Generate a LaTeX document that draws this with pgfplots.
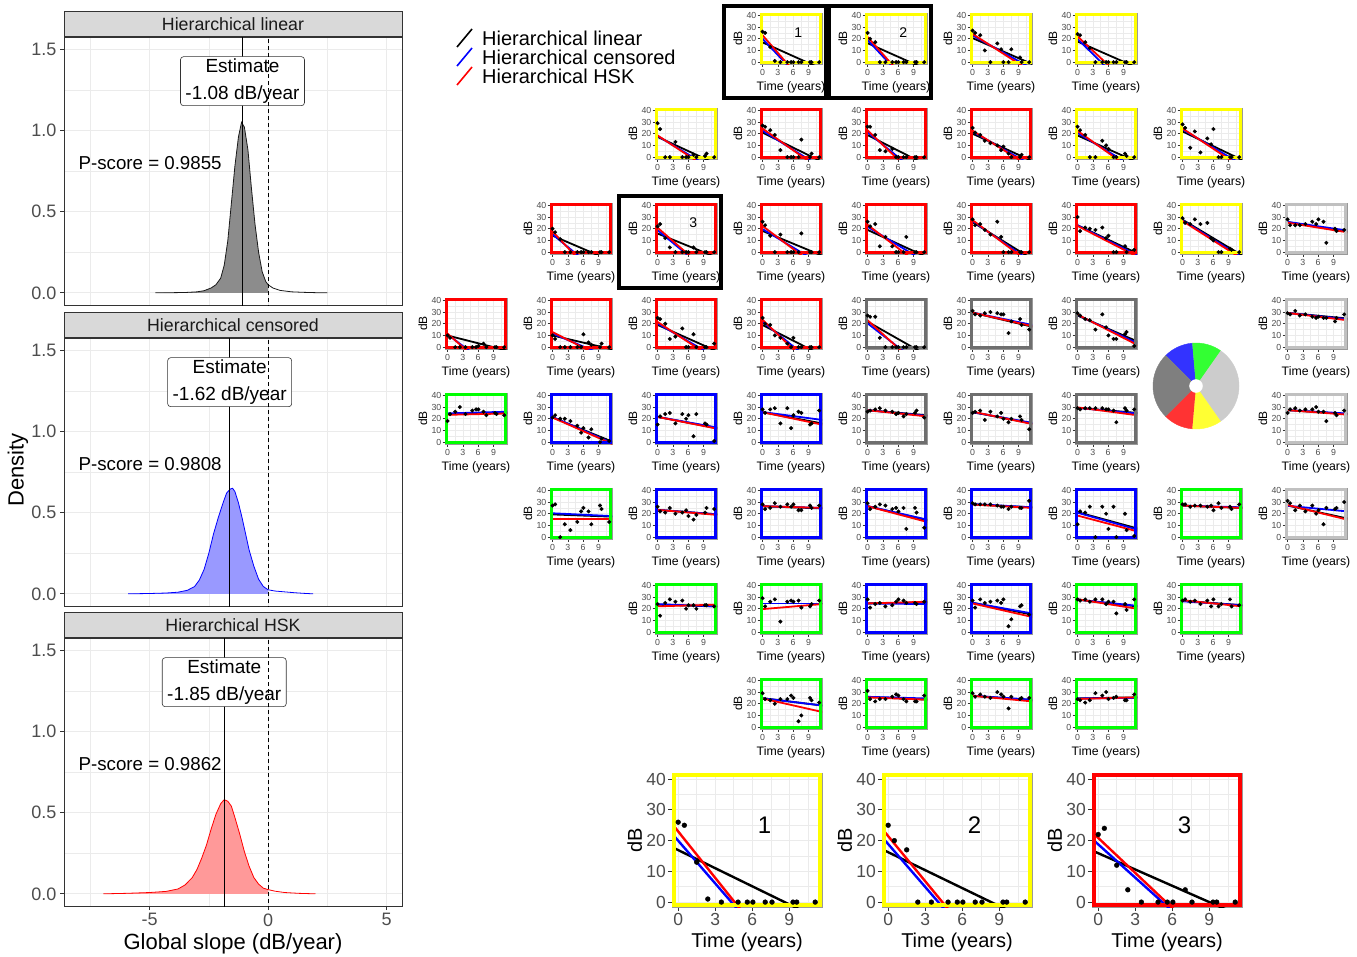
\documentclass[border=0pt]{standalone}
\usepackage{fontspec}
\setmainfont{Liberation Sans}
\usepackage{pgfplots}
\usepackage{pgfplotstable}
\pgfplotsset{compat=1.18}
\newcommand{\fs}[1]{\fontsize{#1}{#1}\selectfont}
\definecolor{g10}{HTML}{1A1A1A}
\definecolor{g20}{HTML}{333333}
\definecolor{g30}{HTML}{4D4D4D}
\definecolor{g60}{HTML}{999999}
\definecolor{g85}{HTML}{D9D9D9}
\definecolor{g92}{HTML}{EBEBEB}
\definecolor{cyel}{HTML}{FFFF00}
\definecolor{cred}{HTML}{FF0000}
\definecolor{cblu}{HTML}{0000FF}
\definecolor{cgrn}{HTML}{00FF00}
\definecolor{cdg}{HTML}{6E6E6E}
\definecolor{clg}{HTML}{C0C0C0}
\definecolor{pblue}{HTML}{3333FF}
\definecolor{pgreen}{HTML}{33FF33}
\definecolor{plg}{HTML}{CCCCCC}
\definecolor{pyel}{HTML}{FFFF33}
\definecolor{pred}{HTML}{FF3333}
\definecolor{pdg}{HTML}{7F7F7F}
\definecolor{fgrey}{HTML}{8C8C8C}
\definecolor{fblue}{HTML}{9999FF}
\definecolor{fred}{HTML}{FF9999}

% visual field rows: t = time (years), cK = column K of the grid
\pgfplotstableread{
t c3 c4 c5 c6
0 26 25 27 24
0.5 25 20 25 23
1.5 13 17 23 17
2.4 1 0 10 12
3.5 0 0 0 0
4.85 0 0 16 0
5.6 0 0 11 0
6.05 0 0 0 0
7.05 0 0 0 0
7.6 0 0 11 0
9.3 0 0 4 0
9.6 0 0 0 0
11.1 0 0 0 0
}\tA
\pgfplotstableread{
t c2 c3 c4 c5 c6 c7
0 29 27 26 25 26 28
0.5 24 26 26 21 23 25
1.5 0 23 19 19 19 8
2.4 0 19 6 14 0 22
3.5 13 6 5 12 0 4
4.85 0 0 7 10 14 16
5.6 0 0 0 6 10 11
6.05 0 0 0 9 7 24
7.05 2 0 0 3 0 0
7.6 0 15 0 0 0 0
9.3 1 0 0 0 3 0
9.6 3 3 0 2 1 0
11.1 0 0 0 0 0 0
}\tB
\pgfplotstableread{
t c1 c2 c3 c4 c5 c6 c7 c8
0 20 22 26 26 28 30 29 28
0.5 17 24 23 22 23 18 25 23
1.5 11 12 14 24 24 21 24 23
2.4 0 4 0 5 19 20 28 23
3.5 0 0 15 13 15 19 24 24
4.85 0 0 0 5 26 21 25 26
5.6 0 0 0 0 13 12 12 24
6.05 0 0 0 0 0 14 10 28
7.05 0 4 0 0 0 0 0 26
7.6 0 0 16 13 0 0 0 8
9.3 0 0 0 0 0 5 3 20
9.6 0 0 0 0 0 0 2 18
11.1 0 0 0 0 0 2 0 19
}\tC
\pgfplotstableread{
t c0 c1 c2 c3 c4 c5 c6 c8
0 10 10 25 25 27 31 29 29
0.5 8 7 24 20 26 28 27 28
1.5 0 0 20 19 26 27 24 31
2.4 0 0 7 10 8 29 23 27
3.5 0 0 9 8 0 30 15 28
4.85 0 0 16 3 0 29 28 26
5.6 0 0 0 0 0 28 17 25
6.05 1 11 0 8 0 28 10 26
7.05 3 4 11 0 0 12 7 25
7.6 0 2 0 0 0 22 7 25
9.3 0 0 0 0 0 24 11 22
9.6 0 3 0 0 0 19 13 25
11.1 0 0 3 0 0 15 1 28
}\tD
\pgfplotstableread{
t c0 c1 c2 c3 c4 c5 c6 c8
0 18 21 15 28 26 25 29 25
0.5 24 23 22 25 27 26 28 28
1.5 26 20 24 28 28 27 29 29
2.4 30 20 25 29 29 19 29 27
3.5 24 18 16 16 27 26 29 28
4.85 27 14 24 29 26 22 29 28
5.6 28 8 20 12 24 25 28 30
6.05 28 12 23 23 25 20 28 26
7.05 26 4 5 26 22 17 27 26
7.6 23 11 24 25 24 20 17 18
9.3 25 0 16 15 25 22 29 25
9.6 24 3 15 16 27 19 27 23
11.1 23 1 1 27 21 11 28 27
}\tE
\pgfplotstableread{
t c1 c2 c3 c4 c5 c6 c7 c8
0 27 26 28 29 29 11 28 31
0.5 28 22 24 24 28 22 28 29
1.5 0 21 25 26 28 21 26 23
2.4 11 25 29 28 28 26 27 27
3.5 6 20 26 27 28 0 27 22
4.85 13 21 28 24 27 26 26 27
5.6 22 23 26 25 26 20 27 20
6.05 25 18 28 22 26 7 23 23
7.05 22 15 23 25 24 26 29 11
7.6 11 19 23 7 26 0 25 25
9.3 27 21 27 25 25 20 26 24
9.6 24 25 25 21 25 6 24 25
11.1 13 24 27 8 31 1 28 30
}\tF
\pgfplotstableread{
t c2 c3 c4 c5 c6 c7
0 24 29 28 27 28 27
0.5 14 22 21 21 27 28
1.5 25 26 24 28 28 26
2.4 28 28 25 25 26 27
3.5 26 9 22 26 28 24
4.85 27 26 23 27 28 27
5.6 20 27 26 25 24 22
6.05 23 26 28 28 26 28
7.05 23 27 27 5 26 22
7.6 20 21 25 11 16 24
9.3 23 22 25 22 24 28
9.6 23 24 24 23 19 22
11.1 22 27 26 15 28 23
}\tG
\pgfplotstableread{
t c3 c4 c5 c6
0 29 31 29 24
0.5 24 24 26 23
1.5 23 22 28 21
2.4 20 24 26 23
3.5 24 24 25 29
4.85 24 26 30 27
5.6 27 28 28 30
6.05 25 27 26 24
7.05 5 24 16 25
7.6 10 22 26 26
9.3 25 22 24 23
9.6 23 22 25 23
11.1 21 27 25 28
}\tH

\tikzset{
  estbox/.style={draw=g20, line width=0.6pt, rounded corners=3pt, fill=white,
    align=center, font={\fontsize{19}{27}\selectfont}, minimum width=124pt,
    minimum height=49pt, inner sep=0pt},
  pscore/.style={anchor=west, font=\fs{18.7}, inner sep=0pt},
}
\pgfplotsset{
  vfbase/.style={
    scale only axis, anchor=north west,
    xmin=-0.5, xmax=11.65, ymin=-1.6, ymax=42,
    xtick={0,3,6,9}, ytick={0,10,20,30,40},
    minor xtick={1.5,4.5,7.5,10.5}, minor ytick={5,15,25,35},
    xmajorgrids, ymajorgrids, xminorgrids, yminorgrids,
    tick align=outside, tick pos=left, minor tick length=0pt,
    axis line style={g60},
    xlabel={Time (years)}, ylabel={dB},
    /pgf/number format/assume math mode=true,
    tick label style={text=g30},
    clip=true,
  },
  vf/.style={vfbase, width=62pt, height=51pt,
    major grid style={g92, line width=0.5pt},
    minor grid style={g92, line width=0.3pt},
    major tick length=2.5pt, tick style={g20, line width=0.5pt},
    tick label style={font=\fs{8.8}, inner sep=1pt},
    xticklabel style={yshift=-1.5pt},
    xlabel style={font=\fs{12.3}, inner sep=1pt, yshift=-4pt},
    ylabel style={font=\fs{12}, inner sep=1pt, yshift=2pt},
    axis line style={line width=0.5pt}},
  vfbig/.style={vfbase, width=150pt, height=134pt,
    major grid style={g92, line width=0.9pt},
    minor grid style={g92, line width=0.5pt},
    major tick length=4pt, tick style={g20, line width=0.8pt},
    tick label style={font=\fs{17.5}, inner sep=2pt},
    xlabel style={font=\fs{20}, inner sep=2pt, yshift=-3pt},
    ylabel style={font=\fs{20}, inner sep=2pt},
    axis line style={line width=0.8pt}},
  vfdot/.style={only marks, mark=*, black, mark size=1.8pt},
  vfl/.style={line width=1.8pt, shorten >=-20pt},
  dens/.style={
    scale only axis, width=338pt, height=268pt, anchor=north west,
    xmin=-8.61, xmax=5.65, ymin=-0.075, ymax=1.575,
    xtick={-5,0,5}, minor xtick={-7.5,-2.5,2.5},
    ytick={0,0.5,1,1.5}, yticklabels={0.0,0.5,1.0,1.5},
    minor ytick={0.25,0.75,1.25},
    xmajorgrids, ymajorgrids, xminorgrids, yminorgrids,
    major grid style={g92, line width=0.9pt},
    minor grid style={g92, line width=0.45pt},
    axis line style={g20, line width=0.8pt},
    tick align=outside, tick pos=left, major tick length=4pt, minor tick length=0pt,
    tick style={g20, line width=0.8pt},
    tick label style={font=\fs{18}, text=g30},
    every axis title shift=0pt,
    title style={at={(0.5,1)}, anchor=south, inner sep=0pt, yshift=0pt,
      minimum width=338pt, minimum height=25pt, fill=g85, draw=g20,
      line width=0.8pt, font=\fs{17.75}, text=g10},
    clip=true,
  },
}

% #1 col, #2 row, #3 border colour, #4 table, #5 column, #6 black, #7 blue, #8 red, #9 label
\newcommand{\vfp}[9]{%
  \pgfmathsetmacro{\vfx}{445+105*#1}%
  \pgfmathsetmacro{\vfy}{-13-95*#2}%
  \begin{axis}[vf, at={(\vfx pt,\vfy pt)}]
    \addplot[vfl, black] coordinates {#6};
    \addplot[vfl, blue] coordinates {#7};
    \addplot[vfl, red] coordinates {#8};
    \addplot[vfdot] table[x=t,y=#5] {#4};
    \node[font=\fs{14}] at (axis cs:7,25) {#9};
    \draw[#3, line width=2.6pt] ([shift={(1.3pt,1.3pt)}]rel axis cs:0,0) rectangle ([shift={(-1.3pt,-1.3pt)}]rel axis cs:1,1);
  \end{axis}}

% #1 x, #2 colour, #3 table, #4 column, #5 black, #6 blue, #7 red, #8 label
\newcommand{\vfbigp}[8]{%
  \begin{axis}[vfbig, at={(#1pt,-773pt)}]
    \addplot[vfl, line width=2.4pt, black] coordinates {#5};
    \addplot[vfl, line width=2.4pt, blue] coordinates {#6};
    \addplot[vfl, line width=2.4pt, red] coordinates {#7};
    \addplot[vfdot, mark size=2.4pt] table[x=t,y=#4] {#3};
    \node[font=\fs{24}] at (axis cs:7,25) {#8};
    \draw[#2, line width=4pt] ([shift={(2pt,2pt)}]rel axis cs:0,0) rectangle ([shift={(-2pt,-2pt)}]rel axis cs:1,1);
  \end{axis}}

\begin{document}
\begin{tikzpicture}[x=1pt,y=1pt]
\path[use as bounding box, fill=white] (0,0) rectangle (1357,-956);

% ---------------- density panels ----------------
\begin{axis}[dens, at={(64pt,-37pt)}, title={Hierarchical linear}, xmajorticks=false]
\addplot[fill=fgrey, draw=none] coordinates {(-4.75,0)(-4.0,0.001)(-3.5,0.002)(-3.0,0.006)(-2.7,0.013)(-2.4,0.03)(-2.2,0.05)(-2.0,0.09)(-1.85,0.17)(-1.7,0.32)(-1.55,0.55)(-1.4,0.78)(-1.25,0.96)(-1.12,1.05)(-1.0,1.02)(-0.85,0.88)(-0.7,0.64)(-0.55,0.42)(-0.4,0.25)(-0.25,0.13)(-0.1,0.07)(0,0.05)(0,0)};
\addplot[g10, line width=0.8pt] coordinates {(-4.75,0)(-4.0,0.001)(-3.5,0.002)(-3.0,0.006)(-2.7,0.013)(-2.4,0.03)(-2.2,0.05)(-2.0,0.09)(-1.85,0.17)(-1.7,0.32)(-1.55,0.55)(-1.4,0.78)(-1.25,0.96)(-1.12,1.05)(-1.0,1.02)(-0.85,0.88)(-0.7,0.64)(-0.55,0.42)(-0.4,0.25)(-0.25,0.13)(-0.1,0.07)(0,0.05)(0.2,0.03)(0.5,0.015)(1.0,0.006)(1.5,0.003)(2.0,0.001)(2.5,0)};
\addplot[black, line width=0.8pt] coordinates {(-1.08,-0.1)(-1.08,1.7)};
\node[estbox] at (axis cs:-1.08,1.303) {Estimate\\ -1.08 dB/year};
\addplot[black, line width=0.8pt, dash pattern=on 4pt off 3pt] coordinates {(0,-0.1)(0,1.7)};
\node[pscore] at (axis cs:-8,0.8) {P-score = 0.9855};
\end{axis}

\begin{axis}[dens, at={(64pt,-338pt)}, title={Hierarchical censored}, xmajorticks=false]
\addplot[fill=fblue, draw=none] coordinates {(-5.9,0)(-5.0,0.002)(-4.3,0.005)(-3.8,0.01)(-3.4,0.022)(-3.1,0.045)(-2.9,0.085)(-2.7,0.15)(-2.5,0.25)(-2.3,0.37)(-2.1,0.47)(-1.9,0.56)(-1.75,0.62)(-1.6,0.645)(-1.5,0.65)(-1.4,0.63)(-1.25,0.56)(-1.1,0.47)(-0.95,0.37)(-0.8,0.27)(-0.6,0.17)(-0.4,0.09)(-0.2,0.045)(0,0.025)(0,0)};
\addplot[cblu, line width=0.8pt] coordinates {(-5.9,0)(-5.0,0.002)(-4.3,0.005)(-3.8,0.01)(-3.4,0.022)(-3.1,0.045)(-2.9,0.085)(-2.7,0.15)(-2.5,0.25)(-2.3,0.37)(-2.1,0.47)(-1.9,0.56)(-1.75,0.62)(-1.6,0.645)(-1.5,0.65)(-1.4,0.63)(-1.25,0.56)(-1.1,0.47)(-0.95,0.37)(-0.8,0.27)(-0.6,0.17)(-0.4,0.09)(-0.2,0.045)(0,0.025)(0.3,0.017)(0.7,0.012)(1.1,0.007)(1.5,0.003)(1.9,0)};
\addplot[black, line width=0.8pt] coordinates {(-1.62,-0.1)(-1.62,1.7)};
\node[estbox] at (axis cs:-1.62,1.303) {Estimate\\ -1.62 dB/year};
\addplot[black, line width=0.8pt, dash pattern=on 4pt off 3pt] coordinates {(0,-0.1)(0,1.7)};
\node[pscore] at (axis cs:-8,0.8) {P-score = 0.9808};
\end{axis}

\begin{axis}[dens, at={(64pt,-638pt)}, title={Hierarchical HSK},
  xticklabels={-5,0,5}, xlabel={Global slope (dB/year)}, xlabel style={font=\fs{22}, text=black}]
\addplot[fill=fred, draw=none] coordinates {(-6.95,0)(-6.0,0.003)(-5.0,0.008)(-4.3,0.015)(-3.8,0.03)(-3.5,0.055)(-3.2,0.1)(-3.0,0.15)(-2.8,0.22)(-2.6,0.3)(-2.4,0.4)(-2.2,0.49)(-2.0,0.555)(-1.85,0.58)(-1.7,0.57)(-1.55,0.54)(-1.4,0.47)(-1.2,0.37)(-1.0,0.26)(-0.8,0.17)(-0.6,0.1)(-0.4,0.06)(-0.2,0.035)(0,0.026)(0,0)};
\addplot[cred, line width=0.8pt] coordinates {(-6.95,0)(-6.0,0.003)(-5.0,0.008)(-4.3,0.015)(-3.8,0.03)(-3.5,0.055)(-3.2,0.1)(-3.0,0.15)(-2.8,0.22)(-2.6,0.3)(-2.4,0.4)(-2.2,0.49)(-2.0,0.555)(-1.85,0.58)(-1.7,0.57)(-1.55,0.54)(-1.4,0.47)(-1.2,0.37)(-1.0,0.26)(-0.8,0.17)(-0.6,0.1)(-0.4,0.06)(-0.2,0.035)(0,0.026)(0.3,0.016)(0.7,0.008)(1.3,0.003)(2.0,0)};
\addplot[black, line width=0.8pt] coordinates {(-1.85,-0.1)(-1.85,1.7)};
\node[estbox] at (axis cs:-1.85,1.303) {Estimate\\ -1.85 dB/year};
\addplot[black, line width=0.8pt, dash pattern=on 4pt off 3pt] coordinates {(0,-0.1)(0,1.7)};
\node[pscore] at (axis cs:-8,0.8) {P-score = 0.9862};
\end{axis}
\node[rotate=90, font=\fs{22}] at (18,-470) {Density};

% ---------------- legend ----------------
\draw[black, line width=1.6pt] (457,-47) -- (472,-29);
\draw[cblu, line width=1.6pt] (457,-66) -- (472,-48);
\draw[cred, line width=1.6pt] (457,-85) -- (472,-67);
\node[anchor=west, font=\fs{20}, inner sep=0pt] at (482,-38) {Hierarchical linear};
\node[anchor=west, font=\fs{20}, inner sep=0pt] at (482,-57) {Hierarchical censored};
\node[anchor=west, font=\fs{20}, inner sep=0pt] at (482,-76) {Hierarchical HSK};

% ---------------- visual field grid ----------------
\vfp{3}{0}{cyel}{\tA}{c3}{(-0.5,17.9)(8.62,0)}{(-0.5,22.3)(4.31,0)}{(-0.5,25.5)(4.57,0)}{1}
\vfp{4}{0}{cyel}{\tA}{c4}{(-0.5,17.2)(8.34,0)}{(-0.5,21.2)(4.06,0)}{(-0.5,23.9)(4.39,0)}{2}
\vfp{5}{0}{cyel}{\tA}{c5}{(-0.5,21.5)(10.8,0)}{(-0.5,24)(9.4,0)}{(-0.5,25.5)(8.6,0)}{}
\vfp{6}{0}{cyel}{\tA}{c6}{(-0.5,18.6)(9.2,0)}{(-0.5,22)(4.6,0)}{(-0.5,24)(5.4,0)}{}

\vfp{2}{1}{cyel}{\tB}{c2}{(-0.5,18.3)(8.6,0)}{(-0.5,19.4)(6.9,0)}{(-0.5,20)(6.5,0)}{}
\vfp{3}{1}{cred}{\tB}{c3}{(-0.5,22)(9.8,0)}{(-0.5,24)(8.3,0)}{(-0.5,26)(7.9,0)}{}
\vfp{4}{1}{cred}{\tB}{c4}{(-0.5,20)(8.5,0)}{(-0.5,23)(6.0,0)}{(-0.5,25)(5.5,0)}{}
\vfp{5}{1}{cred}{\tB}{c5}{(-0.5,21)(10,0)}{(-0.5,23)(8.8,0)}{(-0.5,24)(8.3,0)}{}
\vfp{6}{1}{cyel}{\tB}{c6}{(-0.5,19.5)(9.5,0)}{(-0.5,22)(7.8,0)}{(-0.5,24)(7.2,0)}{}
\vfp{7}{1}{cyel}{\tB}{c7}{(-0.5,23)(10.5,0)}{(-0.5,25)(9.2,0)}{(-0.5,26)(8.5,0)}{}

\vfp{1}{2}{cred}{\tC}{c1}{(-0.5,15)(7.5,0)}{(-0.5,17)(4.2,0)}{(-0.5,20)(3.8,0)}{}
\vfp{2}{2}{cred}{\tC}{c2}{(-0.5,16.8)(9.0,0)}{(-0.5,20.6)(5.2,0)}{(-0.5,22.8)(5.5,0)}{3}
\vfp{3}{2}{cred}{\tC}{c3}{(-0.5,19)(10,0)}{(-0.5,21)(7.5,0)}{(-0.5,24)(6.8,0)}{}
\vfp{4}{2}{cred}{\tC}{c4}{(-0.5,20)(9.5,0)}{(-0.5,23)(8.2,0)}{(-0.5,25)(7.0,0)}{}
\vfp{5}{2}{cred}{\tC}{c5}{(-0.5,27)(9.5,0)}{(-0.5,28)(8.8,0)}{(-0.5,29)(8.4,0)}{}
\vfp{6}{2}{cred}{\tC}{c6}{(-0.5,24)(11.2,0)}{(-0.5,24)(10.5,0)}{(-0.5,23.5)(10.0,0)}{}
\vfp{7}{2}{cyel}{\tC}{c7}{(-0.5,29)(10.6,0)}{(-0.5,28.5)(10.0,0)}{(-0.5,28)(9.6,0)}{}
\vfp{8}{2}{clg}{\tC}{c8}{(-0.5,26)(11.65,17.5)}{(-0.5,26.2)(11.65,18.5)}{(-0.5,25.5)(11.65,17)}{}

\vfp{0}{3}{cred}{\tD}{c0}{(-0.5,10.5)(9.0,0)}{(-0.5,12.5)(3.3,0)}{(-0.5,13.5)(3.0,0)}{}
\vfp{1}{3}{cred}{\tD}{c1}{(-0.5,10.5)(9.8,0)}{(-0.5,12.5)(6.3,0)}{(-0.5,14)(5.8,0)}{}
\vfp{2}{3}{cred}{\tD}{c2}{(-0.5,20)(9.8,0)}{(-0.5,21.5)(8.0,0)}{(-0.5,23)(7.5,0)}{}
\vfp{3}{3}{cred}{\tD}{c3}{(-0.5,20)(8.5,0)}{(-0.5,23.5)(6.2,0)}{(-0.5,25.5)(5.6,0)}{}
\vfp{4}{3}{cdg}{\tD}{c4}{(-0.5,23)(8.8,0)}{(-0.5,22)(6.0,0)}{(-0.5,25)(5.8,0)}{}
\vfp{5}{3}{cdg}{\tD}{c5}{(-0.5,30)(11.65,17.5)}{(-0.5,30)(11.65,19)}{(-0.5,30)(11.65,18)}{}
\vfp{6}{3}{cdg}{\tD}{c6}{(-0.5,28)(11.65,5)}{(-0.5,28.5)(11.65,3.5)}{(-0.5,29)(11.65,2)}{}
\vfp{8}{3}{clg}{\tD}{c8}{(-0.5,29.5)(11.65,24.5)}{(-0.5,29.5)(11.65,24)}{(-0.5,29.5)(11.65,23)}{}

\vfp{0}{4}{cgrn}{\tE}{c0}{(-0.5,24)(11.65,25)}{(-0.5,24.5)(11.65,26)}{(-0.5,23.3)(11.65,24.5)}{}
\vfp{1}{4}{cblu}{\tE}{c1}{(-0.5,22)(11.65,0.5)}{(-0.5,22.5)(11.3,0)}{(-0.5,22)(10.9,0)}{}
\vfp{2}{4}{cblu}{\tE}{c2}{(-0.5,22)(11.65,12)}{(-0.5,22)(11.65,12.5)}{(-0.5,22)(11.65,11.5)}{}
\vfp{3}{4}{cblu}{\tE}{c3}{(-0.5,26)(11.65,16)}{(-0.5,26)(11.65,19)}{(-0.5,26)(11.65,15)}{}
\vfp{4}{4}{cdg}{\tE}{c4}{(-0.5,27.5)(11.65,23)}{(-0.5,27.5)(11.65,22.5)}{(-0.5,27.5)(11.65,22)}{}
\vfp{5}{4}{cdg}{\tE}{c5}{(-0.5,26)(11.65,16)}{(-0.5,26)(11.65,16.5)}{(-0.5,26.5)(11.65,15.5)}{}
\vfp{6}{4}{cdg}{\tE}{c6}{(-0.5,29.5)(11.65,25)}{(-0.5,29.5)(11.65,24.5)}{(-0.5,30)(11.65,23)}{}
\vfp{8}{4}{clg}{\tE}{c8}{(-0.5,27.5)(11.65,24)}{(-0.5,27.5)(11.65,24.5)}{(-0.5,27.5)(11.65,23.5)}{}

\vfp{1}{5}{cgrn}{\tF}{c1}{(-0.5,19.5)(11.65,17.5)}{(-0.5,20.5)(11.65,18)}{(-0.5,15.5)(11.65,15.5)}{}
\vfp{2}{5}{cblu}{\tF}{c2}{(-0.5,23.5)(11.65,19.5)}{(-0.5,23.5)(11.65,19.5)}{(-0.5,23.5)(11.65,19)}{}
\vfp{3}{5}{cblu}{\tF}{c3}{(-0.5,26.5)(11.65,24.5)}{(-0.5,26.5)(11.65,25)}{(-0.5,26.5)(11.65,25)}{}
\vfp{4}{5}{cblu}{\tF}{c4}{(-0.5,27)(11.65,14.5)}{(-0.5,27)(11.65,15)}{(-0.5,27)(11.65,13)}{}
\vfp{5}{5}{cblu}{\tF}{c5}{(-0.5,28)(11.65,25.5)}{(-0.5,28.5)(11.65,25.5)}{(-0.5,28)(11.65,25)}{}
\vfp{6}{5}{cblu}{\tF}{c6}{(-0.5,22)(11.65,7.5)}{(-0.5,21.5)(11.65,6.5)}{(-0.5,19)(11.65,5)}{}
\vfp{7}{5}{cgrn}{\tF}{c7}{(-0.5,27)(11.65,25)}{(-0.5,27)(11.65,25.5)}{(-0.5,27)(11.65,25)}{}
\vfp{8}{5}{clg}{\tF}{c8}{(-0.5,27.5)(11.65,16)}{(-0.5,27)(11.65,22)}{(-0.5,28)(11.65,15)}{}

\vfp{2}{6}{cgrn}{\tG}{c2}{(-0.5,23.5)(11.65,22)}{(-0.5,24)(11.65,22)}{(-0.5,22)(11.65,23.5)}{}
\vfp{3}{6}{cgrn}{\tG}{c3}{(-0.5,24.5)(11.65,24.5)}{(-0.5,24.5)(11.65,24.5)}{(-0.5,19.5)(11.65,24)}{}
\vfp{4}{6}{cblu}{\tG}{c4}{(-0.5,24.5)(11.65,25.5)}{(-0.5,24.5)(11.65,24)}{(-0.5,24.5)(11.65,26)}{}
\vfp{5}{6}{cblu}{\tG}{c5}{(-0.5,25.5)(11.65,15)}{(-0.5,25.5)(11.65,16)}{(-0.5,25)(11.65,13)}{}
\vfp{6}{6}{cgrn}{\tG}{c6}{(-0.5,28)(11.65,22)}{(-0.5,28)(11.65,22.5)}{(-0.5,28.5)(11.65,20)}{}
\vfp{7}{6}{cgrn}{\tG}{c7}{(-0.5,27)(11.65,23)}{(-0.5,26.5)(11.65,23)}{(-0.5,27.5)(11.65,22)}{}

\vfp{3}{7}{cgrn}{\tH}{c3}{(-0.5,25)(11.65,18.5)}{(-0.5,25)(11.65,18.5)}{(-0.5,25)(11.65,13)}{}
\vfp{4}{7}{cgrn}{\tH}{c4}{(-0.5,26)(11.65,23.5)}{(-0.5,26)(11.65,24.5)}{(-0.5,25.5)(11.65,23.5)}{}
\vfp{5}{7}{cgrn}{\tH}{c5}{(-0.5,27)(11.65,23)}{(-0.5,27)(11.65,23.5)}{(-0.5,27)(11.65,22)}{}
\vfp{6}{7}{cgrn}{\tH}{c6}{(-0.5,24.5)(11.65,25.5)}{(-0.5,24.5)(11.65,25)}{(-0.5,24)(11.65,25.5)}{}

% ---------------- sector pie ----------------
\begin{axis}[at={(1196pt,-386pt)}, anchor=center, scale only axis, width=86pt, height=86pt,
  xmin=-1, xmax=1, ymin=-1, ymax=1, hide axis, clip=false]
\addplot[fill=pblue, draw=pblue, data cs=polar] coordinates {(95,0)(95,1)(100,1)(105,1)(110,1)(115,1)(120,1)(125,1)(130,1)(135,1)};
\addplot[fill=pgreen, draw=pgreen, data cs=polar] coordinates {(55,0)(55,1)(60,1)(65,1)(70,1)(75,1)(80,1)(85,1)(90,1)(95,1)};
\addplot[fill=plg, draw=plg, data cs=polar] coordinates {(-55,0)(-55,1)(-50,1)(-45,1)(-40,1)(-35,1)(-30,1)(-25,1)(-20,1)(-15,1)(-10,1)(-5,1)(0,1)(5,1)(10,1)(15,1)(20,1)(25,1)(30,1)(35,1)(40,1)(45,1)(50,1)(55,1)};
\addplot[fill=pyel, draw=pyel, data cs=polar] coordinates {(-95,0)(-95,1)(-90,1)(-85,1)(-80,1)(-75,1)(-70,1)(-65,1)(-60,1)(-55,1)};
\addplot[fill=pred, draw=pred, data cs=polar] coordinates {(-135,0)(-135,1)(-130,1)(-125,1)(-120,1)(-115,1)(-110,1)(-105,1)(-100,1)(-95,1)};
\addplot[fill=pdg, draw=pdg, data cs=polar] coordinates {(135,0)(135,1)(140,1)(145,1)(150,1)(155,1)(160,1)(165,1)(170,1)(175,1)(180,1)(185,1)(190,1)(195,1)(200,1)(205,1)(210,1)(215,1)(220,1)(225,1)};
\addplot[only marks, mark=*, mark size=6.5pt, white, data cs=polar] coordinates {(0,0)};
\end{axis}

% ---------------- enlarged panels ----------------
\vfbigp{672}{cyel}{\tA}{c3}{(-0.5,17.9)(8.62,0)}{(-0.5,22.3)(4.31,0)}{(-0.5,25.5)(4.57,0)}{1}
\vfbigp{882}{cyel}{\tA}{c4}{(-0.5,17.2)(8.34,0)}{(-0.5,21.2)(4.06,0)}{(-0.5,23.9)(4.39,0)}{2}
\vfbigp{1092}{cred}{\tC}{c2}{(-0.5,16.8)(9.0,0)}{(-0.5,20.6)(5.2,0)}{(-0.5,22.8)(5.5,0)}{3}

% ---------------- highlight boxes ----------------
\draw[black, line width=4pt] (724,-6) rectangle (826,-98);
\draw[black, line width=4pt] (829,-6) rectangle (931,-98);
\draw[black, line width=4pt] (619,-196) rectangle (721,-288);
\end{tikzpicture}
\end{document}
